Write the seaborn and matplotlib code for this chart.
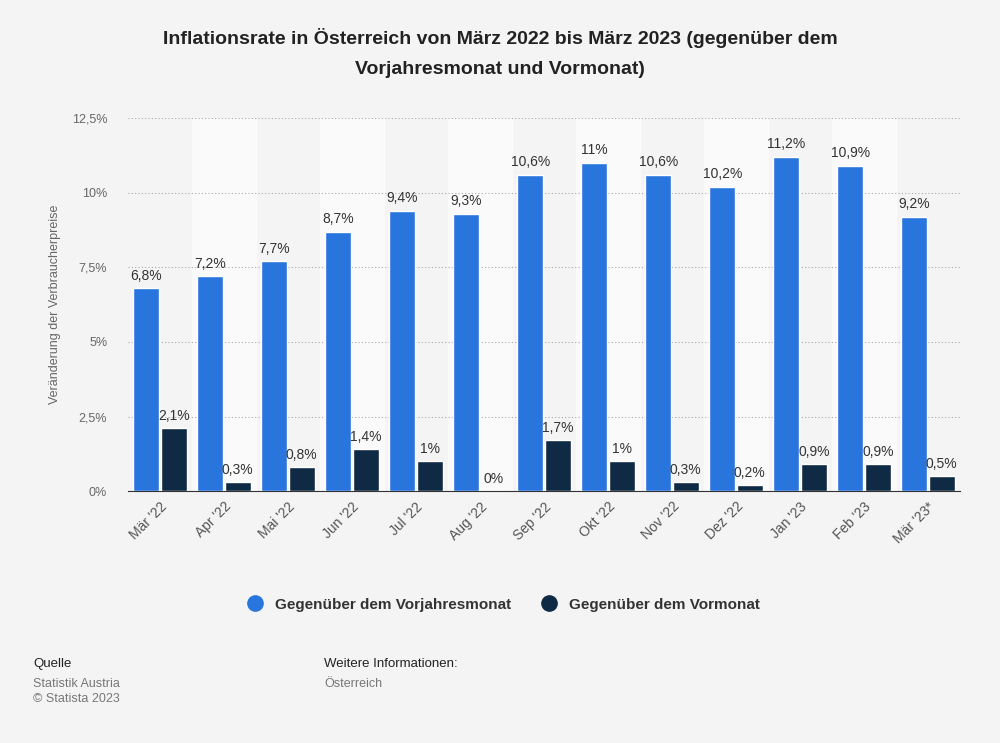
import numpy as np
import pandas as pd
import seaborn as sns
import matplotlib.pyplot as plt
from matplotlib.lines import Line2D

monate = ["Mär '22", "Apr '22", "Mai '22", "Jun '22", "Jul '22", "Aug '22", "Sep '22",
          "Okt '22", "Nov '22", "Dez '22", "Jan '23", "Feb '23", "Mär '23*"]
vorjahr = [6.8, 7.2, 7.7, 8.7, 9.4, 9.3, 10.6, 11.0, 10.6, 10.2, 11.2, 10.9, 9.2]
vormonat = [2.1, 0.3, 0.8, 1.4, 1.0, 0.0, 1.7, 1.0, 0.3, 0.2, 0.9, 0.9, 0.5]
serien = ["Gegenüber dem Vorjahresmonat", "Gegenüber dem Vormonat"]
farben = ["#2876dd", "#0f2a44"]

df = pd.DataFrame({
    "Monat": monate * 2,
    "Wert": vorjahr + vormonat,
    "Serie": [serien[0]] * len(monate) + [serien[1]] * len(monate),
})

def fmt(v):
    s = f"{v:.1f}".rstrip("0").rstrip(".")
    return s.replace(".", ",") + "%"

sns.set_style("white")
plt.rcParams['font.family'] = ['Liberation Sans', 'DejaVu Sans']

fig = plt.figure(figsize=(10, 7.43), dpi=100, facecolor="#f4f4f4")
ax = fig.add_axes([0.128, 0.339, 0.832, 0.502])
ax.set_facecolor("#f4f4f4")

for i in range(len(monate)):
    if i % 2 == 1:
        ax.axvspan(i - 0.5, i + 0.5, color="#fafafa", zorder=0)

sns.barplot(data=df, x="Monat", y="Wert", hue="Serie", palette=farben, saturation=1,
            width=0.86, gap=0.06, ax=ax, zorder=3, legend=False)

for cont in ax.containers:
    ax.bar_label(cont, labels=[fmt(b.get_height()) for b in cont], padding=4,
                 fontsize=10, color="#333333", zorder=4)

ax.set_ylim(0, 12.5)
ax.set_xlim(-0.5, len(monate) - 0.5)
ticks = [0, 2.5, 5, 7.5, 10, 12.5]
ax.set_yticks(ticks)
ax.set_yticklabels([fmt(t) for t in ticks], fontsize=9, color="#666666")
ax.yaxis.grid(True, linestyle=(0, (1, 2)), color="#aaaaaa", linewidth=0.8, zorder=1)
ax.tick_params(axis="y", length=0, pad=15)
for s in ["top", "right", "left"]:
    ax.spines[s].set_visible(False)
ax.spines["bottom"].set_color("#333333")
plt.setp(ax.get_xticklabels(), rotation=45, ha="right", rotation_mode="anchor",
         fontsize=10, color="#555555")
ax.tick_params(axis="x", length=0, pad=6)
ax.set_xlabel("")
ax.set_ylabel("Veränderung der Verbraucherpreise", fontsize=9, color="#666666", labelpad=8)

fig.text(0.5, 0.962, "Inflationsrate in Österreich von März 2022 bis März 2023 (gegenüber dem\nVorjahresmonat und Vormonat)",
         ha="center", va="top", fontsize=14, fontweight="bold", color="#222222", linespacing=2.0)

handles = [Line2D([], [], marker="o", linestyle="", markersize=11, color=c) for c in farben]
fig.legend(handles, serien, loc="center", bbox_to_anchor=(0.5, 0.186), ncol=2, frameon=False,
           prop={"size": 11, "weight": "bold"}, handletextpad=0.3, columnspacing=1.5,
           labelcolor="#333333")

fig.text(0.033, 0.102, "Quelle", fontsize=9.5, color="#222222")
fig.text(0.033, 0.076, "Statistik Austria", fontsize=9, color="#777777")
fig.text(0.033, 0.055, "© Statista 2023", fontsize=9, color="#777777")
fig.text(0.324, 0.102, "Weitere Informationen:", fontsize=9.5, color="#222222")
fig.text(0.324, 0.076, "Österreich", fontsize=9, color="#777777")

fig.savefig("out.png", dpi=100, facecolor=fig.get_facecolor())
